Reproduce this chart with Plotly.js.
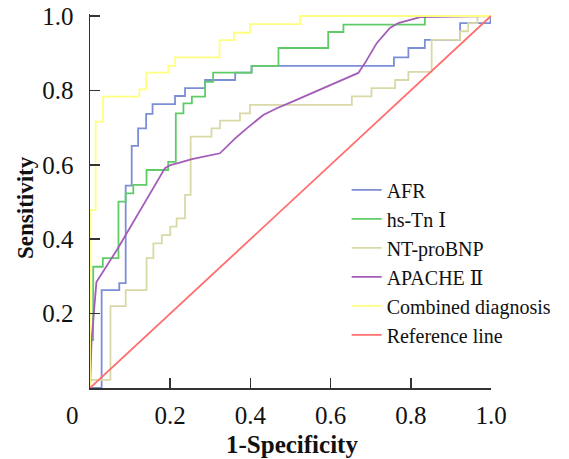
<!DOCTYPE html>
<html>
<head>
<meta charset="utf-8">
<script src="https://cdn.plot.ly/plotly-3.0.1.min.js"></script>
<style>html,body{margin:0;padding:0;background:#fff;}#chart{width:569px;height:459px;}</style>
</head>
<body>
<div id="chart"></div>
<script>
// ROC curve vertices (1-Specificity, Sensitivity)
const seriesNames = ["AFR", "hs-Tn Ⅰ", "NT-proBNP", "APACHE Ⅱ", "Combined diagnosis", "Reference line"];
const seriesColors = ["#7b8ed6", "#5fcc68", "#d9d9a8", "#a35cb8", "#ffff80", "#ff6e6e"];

const afrX = [0, 0.029, 0.029, 0.073, 0.073, 0.089, 0.089, 0.104, 0.104, 0.120, 0.120, 0.140, 0.140, 0.156, 0.156, 0.212, 0.212, 0.237, 0.237, 0.287, 0.287, 0.362, 0.362, 0.403, 0.403, 0.758, 0.758, 0.794, 0.794, 0.835, 0.835, 0.923, 0.923, 0.998, 1];
const afrY = [0, 0, 0.263, 0.263, 0.282, 0.282, 0.544, 0.544, 0.651, 0.651, 0.698, 0.698, 0.737, 0.737, 0.763, 0.763, 0.785, 0.785, 0.806, 0.806, 0.828, 0.828, 0.848, 0.848, 0.866, 0.866, 0.889, 0.889, 0.914, 0.914, 0.936, 0.936, 0.981, 0.981, 1];

const tniX = [0, 0, 0.008, 0.008, 0.032, 0.032, 0.071, 0.071, 0.089, 0.089, 0.108, 0.108, 0.141, 0.141, 0.195, 0.195, 0.214, 0.214, 0.233, 0.233, 0.254, 0.254, 0.287, 0.287, 0.307, 0.307, 0.403, 0.403, 0.470, 0.470, 0.594, 0.594, 0.632, 0.632, 0.835, 0.835, 1];
const tniY = [0, 0.129, 0.129, 0.326, 0.326, 0.349, 0.349, 0.501, 0.501, 0.523, 0.523, 0.546, 0.546, 0.586, 0.586, 0.608, 0.608, 0.738, 0.738, 0.765, 0.765, 0.783, 0.783, 0.823, 0.823, 0.848, 0.848, 0.866, 0.866, 0.914, 0.914, 0.957, 0.957, 0.977, 0.977, 1, 1];

const bnpX = [0, 0, 0.051, 0.051, 0.089, 0.089, 0.141, 0.141, 0.158, 0.158, 0.179, 0.179, 0.200, 0.200, 0.216, 0.216, 0.237, 0.237, 0.251, 0.251, 0.303, 0.303, 0.324, 0.324, 0.374, 0.374, 0.399, 0.399, 0.653, 0.653, 0.702, 0.702, 0.761, 0.761, 0.794, 0.794, 0.852, 0.852, 0.923, 0.923, 0.943, 0.943, 0.966, 0.966, 1];
const bnpY = [0, 0.022, 0.022, 0.220, 0.220, 0.263, 0.263, 0.349, 0.349, 0.389, 0.389, 0.411, 0.411, 0.434, 0.434, 0.456, 0.456, 0.519, 0.519, 0.676, 0.676, 0.698, 0.698, 0.719, 0.719, 0.738, 0.738, 0.761, 0.761, 0.784, 0.784, 0.806, 0.806, 0.828, 0.828, 0.850, 0.850, 0.936, 0.936, 0.959, 0.959, 0.981, 0.981, 1, 1];

const apacheX = [0, 0.004, 0.016, 0.067, 0.187, 0.200, 0.224, 0.254, 0.324, 0.362, 0.391, 0.432, 0.466, 0.499, 0.669, 0.686, 0.715, 0.748, 0.769, 0.823, 1];
const apacheY = [0, 0.129, 0.285, 0.371, 0.591, 0.599, 0.606, 0.615, 0.631, 0.671, 0.698, 0.734, 0.752, 0.767, 0.847, 0.874, 0.927, 0.968, 0.981, 0.997, 1];

const combX = [0, 0, 0.014, 0.014, 0.032, 0.032, 0.123, 0.123, 0.140, 0.140, 0.195, 0.195, 0.212, 0.212, 0.323, 0.323, 0.359, 0.359, 0.399, 0.399, 0.524, 0.524, 1];
const combY = [0, 0.478, 0.478, 0.716, 0.716, 0.783, 0.783, 0.803, 0.803, 0.848, 0.848, 0.866, 0.866, 0.889, 0.889, 0.935, 0.935, 0.955, 0.955, 0.978, 0.978, 1, 1];

const refX = [0, 1];
const refY = [0, 1];

const xTickVals = [0.2, 0.4, 0.6, 0.8, 1.0];
const xTickText = ["0.2", "0.4", "0.6", "0.8", "1.0"];
const yTickVals = [0.2, 0.4, 0.6, 0.8, 1.0];
const yTickText = ["0.2", "0.4", "0.6", "0.8", "1.0"];

const xs = [afrX, tniX, bnpX, apacheX, combX, refX];
const ys = [afrY, tniY, bnpY, apacheY, combY, refY];

const traces = seriesNames.map((n, i) => ({
  type: "scatter", mode: "lines", name: n,
  x: xs[i], y: ys[i], legendgroup: "g" + i,
  line: {color: seriesColors[i], width: 1.8}
}));

const serif = "Liberation Serif, DejaVu Serif, Times New Roman, serif";
const layout = {
  width: 569, height: 459,
  margin: {l: 90, r: 78, t: 14, b: 71, pad: 0},
  paper_bgcolor: "#ffffff", plot_bgcolor: "rgba(0,0,0,0)",
  showlegend: true,
  legend: {x: 0.64, y: 0.582, xanchor: "left", yanchor: "top", bgcolor: "rgba(0,0,0,0)",
           font: {family: serif, size: 20, color: "#111"}, tracegroupgap: 0, itemwidth: 30},
  xaxis: {range: [0, 1], tickvals: xTickVals, ticktext: xTickText, ticks: "inside", ticklen: 10,
          tickwidth: 1.5, tickcolor: "#333", showline: true, linecolor: "#333", linewidth: 1.5,
          showgrid: false, zeroline: false, ticklabelstandoff: 4,
          tickfont: {family: serif, size: 25, color: "#111"}},
  yaxis: {range: [0, 374 / 372], tickvals: yTickVals, ticktext: yTickText, ticks: "inside", ticklen: 10,
          tickwidth: 1.5, tickcolor: "#333", showline: true, linecolor: "#333", linewidth: 1.5,
          showgrid: false, zeroline: false, ticklabelstandoff: 10,
          tickfont: {family: serif, size: 25, color: "#111"}},
  annotations: [
    {text: "0", xref: "paper", yref: "paper", x: (72 - 90) / 401, y: (388 - 415) / 374,
     xanchor: "center", yanchor: "middle", showarrow: false, font: {family: serif, size: 25, color: "#111"}},
    {text: "<b>1-Specificity</b>", xref: "paper", yref: "paper", x: (292 - 90) / 401, y: (388 - 444) / 374,
     xanchor: "center", yanchor: "middle", showarrow: false, font: {family: serif, size: 25, color: "#111"}},
    {text: "<b>Sensitivity</b>", xref: "paper", yref: "paper", x: (25 - 90) / 401, y: (388 - 208) / 374,
     xanchor: "center", yanchor: "middle", textangle: -90, showarrow: false, font: {family: serif, size: 23, color: "#111"}}
  ]
};

Plotly.newPlot("chart", traces, layout, {displayModeBar: false, staticPlot: true});
</script>
</body>
</html>
